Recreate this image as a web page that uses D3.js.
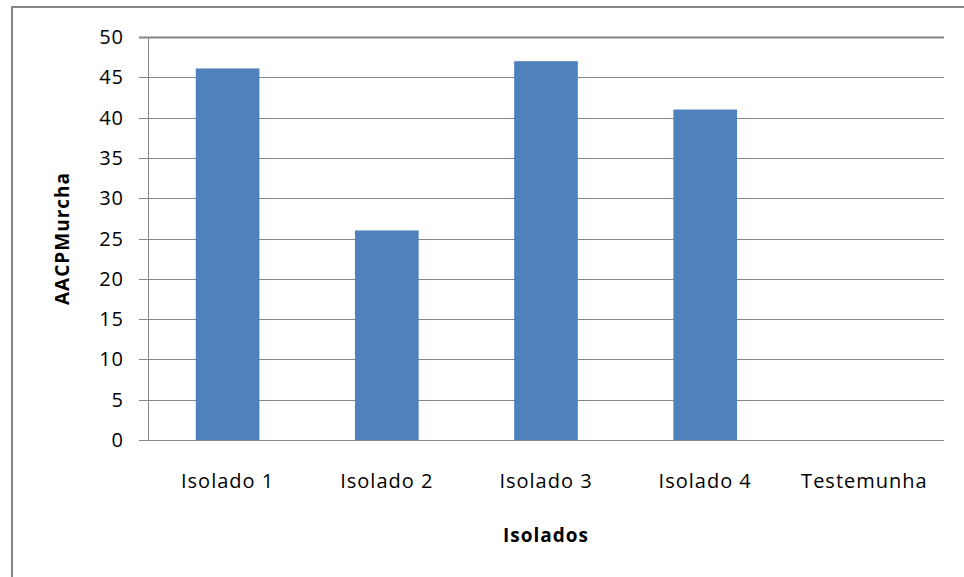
<!DOCTYPE html>
<html>
<head>
<meta charset="utf-8">
<script src="https://cdn.jsdelivr.net/npm/d3@7"></script>
<style>
  body { margin: 0; background: #fff; }
  text { font-family: "Open Sans", Lato, sans-serif; fill: #000; letter-spacing: 1px; }
</style>
</head>
<body>
<div id="chart"></div>
<script>
// dados
const categorias = ["Isolado 1", "Isolado 2", "Isolado 3", "Isolado 4", "Testemunha"];
const valores = [46.1, 26, 47, 41, 0];
const ticksY = [0, 5, 10, 15, 20, 25, 30, 35, 40, 45, 50];

const width = 964, height = 577;
const margin = { top: 37, left: 148, bottom: 137, right: 20 };
const iwidth = 944 - margin.left;
const iheight = 440 - margin.top;

const svg = d3.select("#chart").append("svg")
  .attr("width", width)
  .attr("height", height);

// moldura do gráfico (cortada à direita e em baixo)
svg.append("rect")
  .attr("x", 12).attr("y", 7)
  .attr("width", 1000).attr("height", 700)
  .attr("fill", "none")
  .attr("stroke", "#868686")
  .attr("stroke-width", 2);

const g = svg.append("g").attr("transform", `translate(${margin.left},${margin.top})`);

const y = d3.scaleLinear().domain([0, 50]).range([iheight, 0]);
const x = d3.scaleBand().domain(categorias).range([0, iwidth])
  .paddingInner(0.6).paddingOuter(0.3);
const xc = d3.scaleBand().domain(categorias).range([0, iwidth]);

// linhas de grade
g.selectAll("line.grid").data(ticksY.filter(d => d > 0)).enter().append("line")
  .attr("class", "grid")
  .attr("x1", -9).attr("x2", iwidth)
  .attr("y1", d => Math.round(y(d)) + 0.5).attr("y2", d => Math.round(y(d)) + 0.5)
  .attr("stroke", "#868686")
  .attr("stroke-width", d => d === 50 ? 2 : 1);

// barras
g.selectAll("rect.bar").data(valores).enter().append("rect")
  .attr("class", "bar")
  .attr("fill", "#4f81bd")
  .attr("x", (d, i) => x(categorias[i]))
  .attr("y", d => y(d))
  .attr("width", x.bandwidth())
  .attr("height", d => iheight - y(d));

// eixos
g.append("line")
  .attr("x1", 0.5).attr("x2", 0.5)
  .attr("y1", 0).attr("y2", iheight)
  .attr("stroke", "#868686");
g.append("line")
  .attr("x1", -9).attr("x2", iwidth)
  .attr("y1", iheight + 0.5).attr("y2", iheight + 0.5)
  .attr("stroke", "#868686");

g.selectAll("text.ylab").data(ticksY).enter().append("text")
  .attr("class", "ylab")
  .attr("x", -24)
  .attr("y", d => y(d))
  .attr("dy", "0.35em")
  .attr("text-anchor", "end")
  .style("font-size", "20px")
  .text(d => d);

g.selectAll("text.xlab").data(categorias).enter().append("text")
  .attr("class", "xlab")
  .attr("x", d => xc(d) + xc.bandwidth() / 2)
  .attr("y", iheight + 48)
  .attr("text-anchor", "middle")
  .style("font-size", "20px")
  .text(d => d);

// títulos
g.append("text")
  .attr("x", iwidth / 2)
  .attr("y", iheight + 102)
  .attr("text-anchor", "middle")
  .style("font-size", "19px")
  .style("font-weight", "bold")
  .text("Isolados");

g.append("text")
  .attr("transform", `translate(${69 - margin.left},${iheight / 2}) rotate(-90)`)
  .attr("text-anchor", "middle")
  .style("font-size", "19px")
  .style("font-weight", "bold")
  .text("AACPMurcha");
</script>
</body>
</html>
